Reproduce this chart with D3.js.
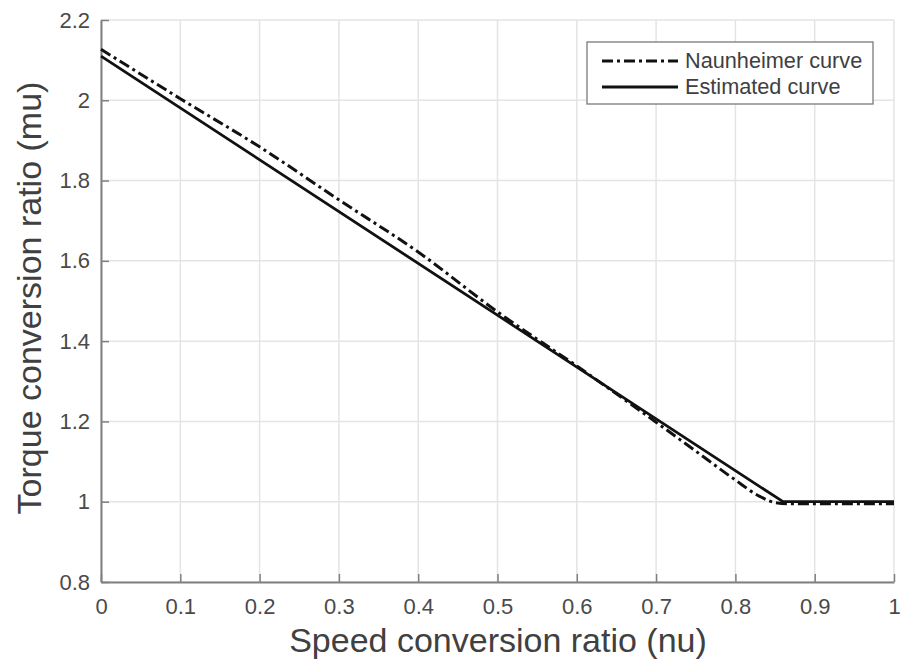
<!DOCTYPE html>
<html><head><meta charset="utf-8">
<script src="https://cdn.jsdelivr.net/npm/d3@7/dist/d3.min.js"></script>
<style>html,body{margin:0;padding:0;background:#fff;}svg{display:block;font-family:"Liberation Sans",Arial,sans-serif;}</style>
</head><body>
<svg id="c" width="902" height="664"></svg>
<script>
const xTicks = [0,0.1,0.2,0.3,0.4,0.5,0.6,0.7,0.8,0.9,1];
const xTickLabels = ["0","0.1","0.2","0.3","0.4","0.5","0.6","0.7","0.8","0.9","1"];
const yTicks = [0.8,1,1.2,1.4,1.6,1.8,2,2.2];
const yTickLabels = ["0.8","1","1.2","1.4","1.6","1.8","2","2.2"];
const nuNaunheimer = [0, 0.1, 0.2, 0.3, 0.4, 0.5, 0.6, 0.7, 0.75, 0.8, 0.83, 0.85, 0.87, 0.9, 1.0];
const muNaunheimer = [2.127, 2.004, 1.884, 1.752, 1.622, 1.473, 1.338, 1.198, 1.126, 1.054, 1.014, 0.998, 0.995, 0.995, 0.995];
const nuEstimated = [0, 0.86, 1.0];
const muEstimated = [2.11, 1.0, 1.0];
const seriesNames = ["Naunheimer curve", "Estimated curve"];
const xLabel = "Speed conversion ratio (nu)";
const yLabel = "Torque conversion ratio (mu)";

const svg = d3.select("#c");
const x = d3.scaleLinear().domain([0,1]).range([101,894]);
const y = d3.scaleLinear().domain([0.8,2.2]).range([582,20]);

// grid
const g = svg.append("g");
g.selectAll(".vg").data(xTicks).enter().append("line")
  .attr("x1", d=>x(d)).attr("x2", d=>x(d)).attr("y1", y(0.8)).attr("y2", y(2.2))
  .attr("stroke","#e4e4e4").attr("stroke-width",1.5);
g.selectAll(".hg").data(yTicks).enter().append("line")
  .attr("y1", d=>y(d)).attr("y2", d=>y(d)).attr("x1", x(0)).attr("x2", x(1))
  .attr("stroke","#e4e4e4").attr("stroke-width",1.5);

// axes
const xAxis = d3.axisBottom(x).tickValues(xTicks).tickFormat((d,i)=>xTickLabels[i]).tickSizeInner(-8).tickSizeOuter(0).tickPadding(16);
const yAxis = d3.axisLeft(y).tickValues(yTicks).tickFormat((d,i)=>yTickLabels[i]).tickSizeInner(-8).tickSizeOuter(0).tickPadding(11);
const gx = svg.append("g").attr("transform",`translate(0,${y(0.8)})`).call(xAxis);
const gy = svg.append("g").attr("transform",`translate(${x(0)},0)`).call(yAxis);
[gx,gy].forEach(a=>{
  a.select(".domain").attr("stroke","#808080").attr("stroke-width",2);
  a.selectAll(".tick line").attr("stroke","#808080").attr("stroke-width",1.5);
  a.selectAll(".tick text").attr("fill","#4a4a4a").attr("font-size",22).attr("font-family","Liberation Sans, Arial, sans-serif");
});
gx.selectAll(".tick text").attr("dy","0.71em");

// lines
const line = d3.line().x(d=>x(d[0])).y(d=>y(d[1]));
const smooth = d3.line().x(d=>x(d[0])).y(d=>y(d[1])).curve(d3.curveMonotoneX);
svg.append("path").datum(nuEstimated.map((v,i)=>[v,muEstimated[i]]))
  .attr("d", line).attr("fill","none").attr("stroke","#111").attr("stroke-width",2.8);
svg.append("path").datum(nuNaunheimer.map((v,i)=>[v,muNaunheimer[i]]))
  .attr("d", smooth).attr("fill","none").attr("stroke","#111").attr("stroke-width",3)
  .attr("stroke-dasharray","11,4,3,4");

// legend
const lg = svg.append("g");
lg.append("rect").attr("x",587).attr("y",42).attr("width",286).attr("height",62)
  .attr("fill","#fff").attr("stroke","#7a7a7a").attr("stroke-width",1.3);
const legendY = [61, 87];
const dashes = ["11,4,3,4", null];
seriesNames.forEach((n,i)=>{
  const l = lg.append("line").attr("x1",602).attr("x2",678).attr("y1",legendY[i]).attr("y2",legendY[i])
    .attr("stroke","#111").attr("stroke-width",2.8);
  if (dashes[i]) l.attr("stroke-dasharray",dashes[i]);
  lg.append("text").attr("x",685).attr("y",legendY[i]+7).text(n)
    .attr("font-size",21.7).attr("fill","#404040");
});

// axis labels
svg.append("text").attr("x",498).attr("y",652).attr("text-anchor","middle")
  .attr("font-size",34).attr("fill","#404040").text(xLabel);
svg.append("text").attr("transform","translate(41,298) rotate(-90)").attr("text-anchor","middle")
  .attr("font-size",34).attr("fill","#404040").text(yLabel);
</script>
</body></html>
